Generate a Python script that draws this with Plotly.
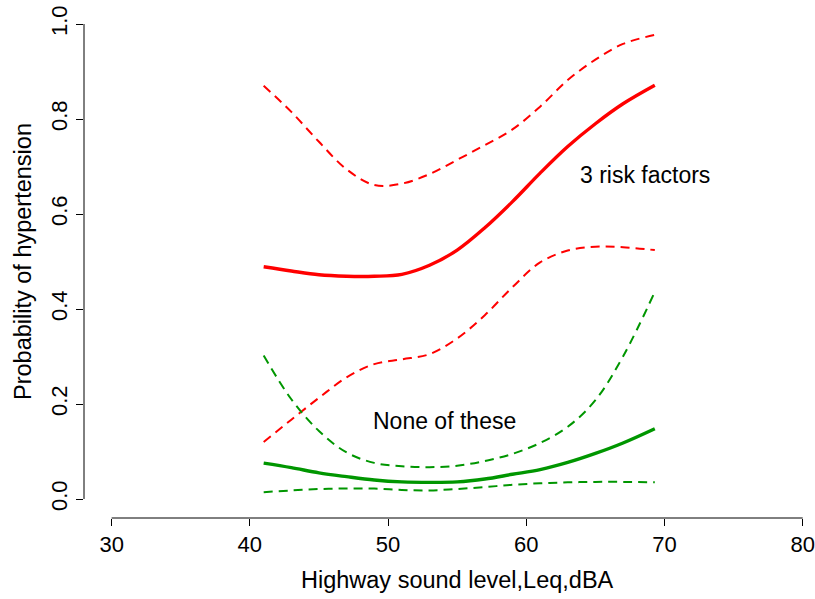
import plotly.graph_objects as go

# Sound level grid (dBA)
sound_level = [41, 43, 45, 47, 49, 51, 53, 55, 57, 59, 61, 63, 65, 67, 69.3]

# 3 risk factors: estimate and confidence limits
risk3_est = [0.489, 0.480, 0.472, 0.469, 0.469, 0.473, 0.492, 0.524, 0.571, 0.626, 0.686, 0.742, 0.790, 0.832, 0.871]
risk3_upper = [0.870, 0.815, 0.752, 0.694, 0.661, 0.664, 0.684, 0.714, 0.745, 0.778, 0.826, 0.882, 0.925, 0.958, 0.977]
risk3_lower = [0.120, 0.167, 0.213, 0.256, 0.284, 0.294, 0.305, 0.338, 0.387, 0.446, 0.498, 0.523, 0.531, 0.530, 0.524]

# None of these: estimate and confidence limits
none_est = [0.0755, 0.066, 0.055, 0.047, 0.040, 0.036, 0.035, 0.036, 0.042, 0.052, 0.062, 0.077, 0.096, 0.118, 0.148]
none_upper = [0.302, 0.210, 0.143, 0.098, 0.076, 0.069, 0.067, 0.070, 0.080, 0.095, 0.118, 0.152, 0.208, 0.300, 0.436]
none_lower = [0.0144, 0.018, 0.021, 0.022, 0.022, 0.019, 0.018, 0.021, 0.025, 0.030, 0.033, 0.035, 0.036, 0.036, 0.035]

x_ticks = [30, 40, 50, 60, 70, 80]
y_ticks = [0.0, 0.2, 0.4, 0.6, 0.8, 1.0]

RED = "#FF0000"
GREEN = "#009600"
FONT = "Liberation Sans, Arial, Helvetica, sans-serif"

fig = go.Figure()

def add(y, color, width, dash):
    fig.add_trace(go.Scatter(
        x=sound_level, y=y, mode="lines",
        line=dict(color=color, width=width, dash=dash, shape="spline", smoothing=1.0),
        showlegend=False, hoverinfo="skip"))

add(risk3_upper, RED, 2, "9px,6px")
add(risk3_lower, RED, 2, "9px,6px")
add(risk3_est, RED, 3.4, "solid")
add(none_upper, GREEN, 2, "9px,6px")
add(none_lower, GREEN, 2, "9px,6px")
add(none_est, GREEN, 3.4, "solid")

fig.add_annotation(x=68.6, y=0.682, text="3 risk factors", showarrow=False,
                   font=dict(family=FONT, size=23, color="black"))
fig.add_annotation(x=54.1, y=0.165, text="None of these", showarrow=False,
                   font=dict(family=FONT, size=23, color="black"))

# x-axis title centred on the full plot region (R style)
fig.add_annotation(x=55, xref="x", y=0, yref="paper", yshift=-62, yanchor="middle",
                   text="Highway sound level,Leq,dBA", showarrow=False,
                   font=dict(family=FONT, size=23.5, color="black"))

# R-style detached axis lines spanning the tick range
fig.add_shape(type="line", xref="x", yref="paper", x0=x_ticks[0], x1=x_ticks[-1], y0=0, y1=0,
              line=dict(color="black", width=1))
fig.add_shape(type="line", xref="paper", yref="y", x0=0, x1=0, y0=y_ticks[0], y1=y_ticks[-1],
              line=dict(color="black", width=1))

fig.update_layout(
    width=815, height=599,
    margin=dict(l=84, r=0, t=5, b=81),
    paper_bgcolor="white", plot_bgcolor="white",
    font=dict(family=FONT, size=23, color="black"),
    xaxis=dict(range=[28, 80.89], tickvals=x_ticks, ticktext=[str(v) for v in x_ticks],
               ticks="outside", ticklen=7, tickwidth=1, tickcolor="black",
               showgrid=False, zeroline=False, showline=False, automargin=False,
               ticklabeloverflow="allow",
               tickfont=dict(size=22)),
    yaxis=dict(range=[-0.04, 1.04], tickvals=y_ticks, ticktext=[f"{v:.1f}" for v in y_ticks],
               ticks="outside", ticklen=7, tickwidth=1, tickcolor="black", tickangle=-90,
               showgrid=False, zeroline=False, showline=False, automargin=False,
               ticklabeloverflow="allow",
               tickfont=dict(size=22),
               title=dict(text="Probability of hypertension", font=dict(size=23.5), standoff=8)),
)

fig.write_html("out.html")
